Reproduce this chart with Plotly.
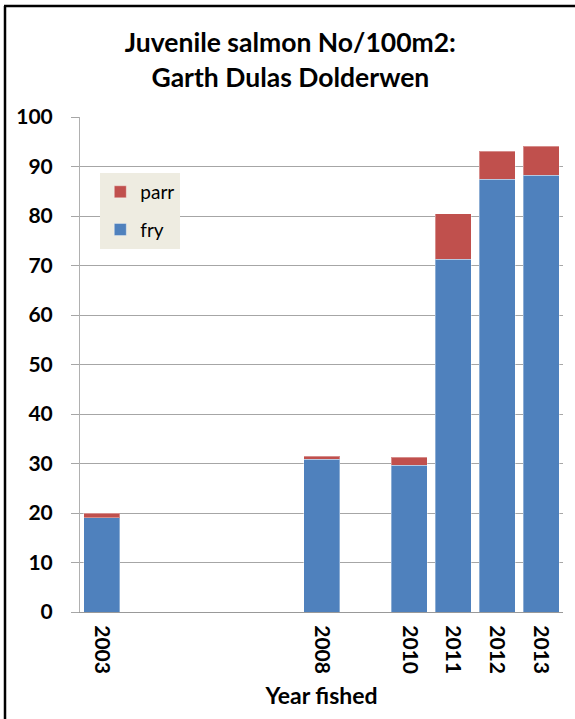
import plotly.graph_objects as go

years = [2003, 2008, 2010, 2011, 2012, 2013]
year_labels = ["2003", "2008", "2010", "2011", "2012", "2013"]
fry = [19.0, 30.9, 29.6, 71.3, 87.4, 88.2]
parr = [1.0, 0.6, 1.7, 9.2, 5.7, 5.9]

FONT = "Lato"
fig = go.Figure()
fig.add_trace(go.Bar(x=years, y=fry, name="fry", legendrank=2, legendgroup="fry",
                     marker=dict(color="#4F81BD", line=dict(color="rgba(255,255,255,0.35)", width=1)),
                     width=0.82))
fig.add_trace(go.Bar(x=years, y=parr, name="parr", legendrank=1, legendgroup="parr",
                     marker=dict(color="#C0504D", line=dict(color="rgba(255,255,255,0.35)", width=1)),
                     width=0.82))

fig.update_layout(
    width=575, height=719,
    barmode="stack",
    paper_bgcolor="white", plot_bgcolor="white",
    margin=dict(l=80, r=12, t=117, b=107),
    font=dict(family=FONT, color="black"),
    title=dict(text="<b>Juvenile salmon No/100m2:<br>Garth Dulas Dolderwen</b>",
               x=0.505, xanchor="center", y=0.927, yanchor="top",
               yref="container",
               font=dict(family=FONT, size=26.5, color="black")),
    legend=dict(x=0.042, y=0.887, xanchor="left", yanchor="top",
                bgcolor="#EEECE1", font=dict(family=FONT, size=19, color="black"),
                traceorder="grouped", tracegroupgap=10,
                itemwidth=30),
    showlegend=True,
)
fig.update_xaxes(range=[2002.5, 2013.5], tickmode="array", tickvals=years,
                 ticktext=["<b>" + t + "</b>" for t in year_labels],
                 tickangle=90, tickfont=dict(family=FONT, size=21, color="black"),
                 showgrid=False, showline=True, linecolor="#999999", linewidth=1,
                 ticks="", zeroline=False, ticklabelstandoff=8,
                 title=dict(text="<b>Year fished</b>", font=dict(family=FONT, size=23, color="black"),
                            standoff=14))
fig.update_yaxes(range=[0, 100], dtick=10, tickprefix="<b>", ticksuffix="</b>",
                 tickfont=dict(family=FONT, size=21, color="black"),
                 showgrid=True, gridcolor="#A6A6A6", gridwidth=1,
                 showline=True, linecolor="#B0B0B0", linewidth=1,
                 ticks="outside", ticklen=8, tickcolor="#A6A6A6", zeroline=False,
                 ticklabelstandoff=14)

# outer border (top and left visible)
fig.add_shape(type="line", xref="paper", yref="paper", x0=-76/483, x1=1.1, y0=1+111/495, y1=1+111/495,
              line=dict(color="black", width=2.5), layer="above")
fig.add_shape(type="line", xref="paper", yref="paper", x0=-75/483, x1=-75/483, y0=-0.3, y1=1+111/495,
              line=dict(color="black", width=2.5), layer="above")

fig.write_html("out.html", config={"displayModeBar": False},
               post_script="document.body.style.margin='0';")
